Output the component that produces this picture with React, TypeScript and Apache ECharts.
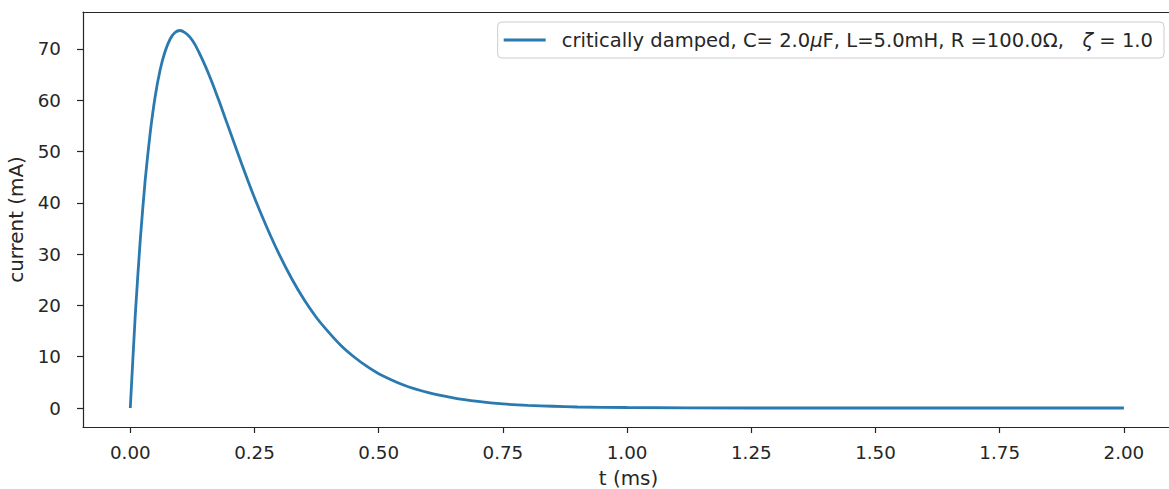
import React, { useEffect, useRef } from "react";
import * as echarts from "echarts";

const tValues = [
  0, 0.01, 0.02, 0.03, 0.04, 0.05, 0.06, 0.07, 0.08, 0.09, 0.1,
  0.11, 0.12, 0.13, 0.14, 0.15, 0.16, 0.17, 0.18, 0.19, 0.2,
  0.225, 0.25, 0.275, 0.3, 0.325, 0.35, 0.375, 0.4, 0.425, 0.45, 0.475, 0.5,
  0.55, 0.6, 0.65, 0.7, 0.75, 0.8, 0.85, 0.9, 1.0, 1.25, 1.5, 1.75, 2.0,
];
const currentValues = [
  0, 18.1, 32.7, 44.5, 53.6, 60.7, 65.9, 69.5, 71.9, 73.2, 73.6,
  73.2, 72.3, 70.9, 69.0, 66.9, 64.6, 62.1, 59.5, 56.8, 54.1,
  47.4, 41.0, 35.2, 29.9, 25.2, 21.1, 17.6, 14.7, 12.1, 10.0, 8.2, 6.7,
  4.5, 3.0, 2.0, 1.3, 0.8, 0.5, 0.35, 0.2, 0.1, 0.0, 0.0, 0.0, 0.0,
];
const xTicks = [0, 0.25, 0.5, 0.75, 1.0, 1.25, 1.5, 1.75, 2.0];
const yTicks = [0, 10, 20, 30, 40, 50, 60, 70];
const seriesName = "critically damped";
const legendLabel =
  "critically damped, C= 2.0{i|μ}F, L=5.0mH, R =100.0Ω,   {i|ζ} = 1.0";

const FONT = "DejaVu Sans";
const INK = "#262626";
const LINE_COLOR = "#2a7ab0";
const X_MIN = -0.0952;
const X_MAX = -0.0952 + 1091 / 496.8;

export default function App() {
  const ref = useRef<HTMLDivElement>(null);

  useEffect(() => {
    if (!ref.current) return;
    const chart = echarts.init(ref.current, null, { renderer: "svg" });
    const data = tValues.map((t, i) => [t, currentValues[i]]);
    chart.setOption({
      animation: false,
      backgroundColor: "#ffffff",
      textStyle: { fontFamily: FONT, color: INK },
      grid: {
        left: 83,
        top: 12,
        width: 1091,
        height: 415,
        show: false,
        containLabel: false,
        outerBoundsMode: "none",
      },
      legend: {
        right: 5,
        top: 22,
        orient: "horizontal",
        padding: [8, 11, 8, 6],
        itemWidth: 42,
        itemHeight: 3,
        itemGap: 0,
        borderColor: "#cccccc",
        borderWidth: 1,
        borderRadius: 4,
        backgroundColor: "rgba(255,255,255,0.8)",
        formatter: () => legendLabel,
        textStyle: {
          fontFamily: FONT,
          fontSize: 19.55,
          color: INK,
          padding: [0, 0, 0, 11],
          rich: {
            i: { fontFamily: FONT, fontStyle: "italic", fontSize: 19.55, color: INK },
          },
        },
        data: [{ name: seriesName, icon: "rect", itemStyle: { color: LINE_COLOR } }],
      },
      xAxis: [
        {
          type: "value",
          min: X_MIN,
          max: X_MAX,
          name: "t (ms)",
          nameLocation: "middle",
          nameGap: 41,
          nameTextStyle: { fontFamily: FONT, fontSize: 19.9, color: INK },
          axisLine: { show: true, onZero: false, lineStyle: { color: INK, width: 1.2 } },
          axisTick: {
            show: true,
            inside: false,
            length: 6,
            customValues: xTicks,
            lineStyle: { color: INK, width: 1.2 },
          },
          axisLabel: {
            customValues: xTicks,
            margin: 16,
            fontFamily: FONT,
            fontSize: 18.3,
            color: INK,
            formatter: (v: number) => v.toFixed(2),
          },
          splitLine: { show: false },
        },
        {
          type: "value",
          position: "top",
          min: X_MIN,
          max: X_MAX,
          axisLine: { show: true, onZero: false, lineStyle: { color: INK, width: 1.2 } },
          axisTick: { show: false },
          axisLabel: { show: false },
          splitLine: { show: false },
        },
      ],
      yAxis: {
        type: "value",
        min: -3.7,
        max: 77.21,
        name: "current (mA)",
        nameLocation: "middle",
        nameGap: 53,
        nameRotate: 90,
        nameTextStyle: { fontFamily: FONT, fontSize: 19.9, color: INK },
        axisLine: { show: true, onZero: false, lineStyle: { color: INK, width: 1.2 } },
        axisTick: {
          show: true,
          inside: false,
          length: 6,
          customValues: yTicks,
          lineStyle: { color: INK, width: 1.2 },
        },
        axisLabel: {
          customValues: yTicks,
          margin: 22,
          fontFamily: FONT,
          fontSize: 18.3,
          color: INK,
        },
        splitLine: { show: false },
      },
      series: [
        {
          name: seriesName,
          type: "line",
          xAxisIndex: 0,
          data,
          smooth: 0.2,
          symbol: "none",
          showSymbol: false,
          lineStyle: { color: LINE_COLOR, width: 2.8 },
          itemStyle: { color: LINE_COLOR },
        },
      ],
    });
    return () => chart.dispose();
  }, []);

  return (
    <div
      ref={ref}
      style={{ position: "absolute", left: 0, top: 0, width: 1169, height: 489 }}
    />
  );
}
